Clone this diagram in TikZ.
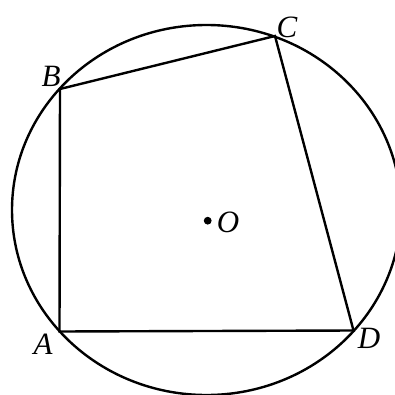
\documentclass[tikz,border=0pt]{standalone}
\usepackage{fontspec}
\setmainfont{Liberation Serif}
\begin{document}
\begin{tikzpicture}[x=1pt,y=-1pt,
  edge/.style={line width=2.4pt},
  lbl/.style={font=\itshape, inner sep=0pt, scale=3.1}]
\useasboundingbox (0,0) rectangle (394,395);
\coordinate (A) at (59.5,331.5);
\coordinate (B) at (60,89);
\coordinate (C) at (275,36);
\coordinate (D) at (353.5,330.5);
\coordinate (O) at (207.7,220.7);
\coordinate (E) at (206.5,210);
\draw[edge] (E) ellipse [x radius=194.5, y radius=185];
\draw[edge] (A) -- (B) -- (C) -- (D) -- cycle;
\fill (O) circle (3.9);
\node[lbl] (lA) at (43,344) {A};
\node[lbl] (lB) at (51,76) {B};
\node[lbl] (lC) at (287,27) {C};
\node[lbl] (lD) at (369,338) {D};
\node[lbl] (lO) at (228,222) {O};
\end{tikzpicture}
\end{document}
